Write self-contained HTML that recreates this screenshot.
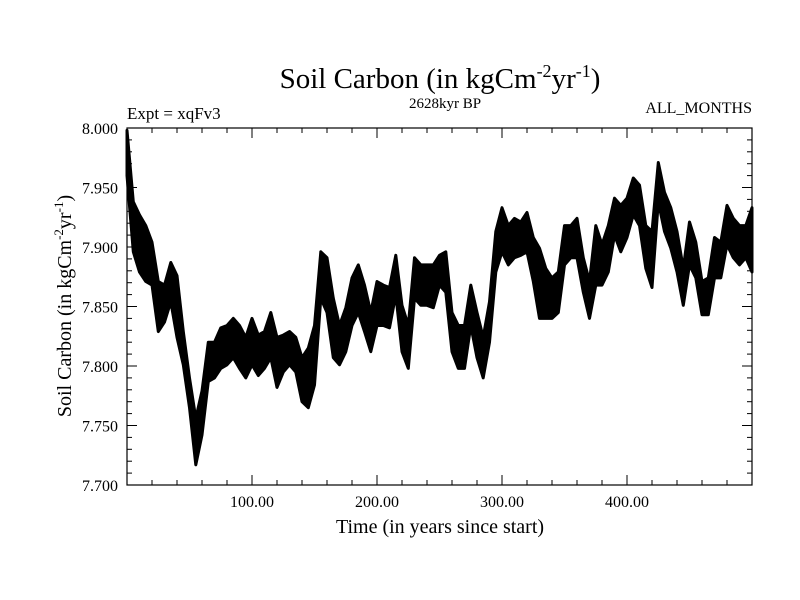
<!DOCTYPE html>
<html><head><meta charset="utf-8"><style>
body{margin:0;background:#fff}
svg{display:block}
text{font-family:"Liberation Serif",serif;fill:#000}
</style></head><body>
<svg width="800" height="600" viewBox="0 0 800 600">
<text x="440" y="88" text-anchor="middle" font-size="29">Soil Carbon (in kgCm<tspan dy="-11" font-size="18">-2</tspan><tspan dy="11">yr</tspan><tspan dy="-11" font-size="18">-1</tspan><tspan dy="11">)</tspan></text>
<text x="127" y="119" font-size="17">Expt = xqFv3</text>
<text x="445" y="108" text-anchor="middle" font-size="15">2628kyr BP</text>
<text x="752" y="113" text-anchor="end" font-size="16">ALL_MONTHS</text>
<text transform="translate(71,306) rotate(-90)" text-anchor="middle" font-size="20">Soil Carbon (in kgCm<tspan dy="-8" font-size="13">-2</tspan><tspan dy="8">yr</tspan><tspan dy="-8" font-size="13">-1</tspan><tspan dy="8">)</tspan></text>
<text x="440" y="533" text-anchor="middle" font-size="20">Time (in years since start)</text>
<g id="ticks"></g>
<g id="series"></g>
<rect x="127" y="128" width="625" height="357" fill="none" stroke="#000" stroke-width="1.2"/>
</svg>
<script>
const years=[0,5,10,15,20,25,30,35,40,45,50,55,60,65,70,75,80,85,90,95,100,105,110,115,120,125,130,135,140,145,150,155,160,165,170,175,180,185,190,195,200,205,210,215,220,225,230,235,240,245,250,255,260,265,270,275,280,285,290,295,300,305,310,315,320,325,330,335,340,345,350,355,360,365,370,375,380,385,390,395,400,405,410,415,420,425,430,435,440,445,450,455,460,465,470,475,480,485,490,495,500];
const hiVals=[7.998,7.938,7.927,7.918,7.904,7.871,7.868,7.887,7.876,7.829,7.790,7.756,7.779,7.820,7.820,7.832,7.834,7.840,7.834,7.824,7.840,7.826,7.829,7.845,7.824,7.826,7.829,7.824,7.807,7.815,7.834,7.896,7.891,7.857,7.834,7.849,7.874,7.885,7.868,7.845,7.871,7.868,7.866,7.893,7.851,7.834,7.891,7.885,7.885,7.885,7.893,7.896,7.845,7.834,7.834,7.868,7.845,7.824,7.854,7.913,7.933,7.918,7.924,7.921,7.929,7.908,7.899,7.882,7.874,7.879,7.918,7.918,7.924,7.891,7.871,7.918,7.902,7.918,7.941,7.935,7.941,7.958,7.952,7.918,7.913,7.971,7.946,7.933,7.913,7.882,7.921,7.904,7.871,7.874,7.908,7.904,7.935,7.924,7.918,7.918,7.933];
const loVals=[7.960,7.896,7.879,7.871,7.868,7.829,7.837,7.854,7.824,7.801,7.765,7.717,7.742,7.787,7.790,7.798,7.801,7.807,7.798,7.790,7.801,7.792,7.798,7.807,7.782,7.795,7.801,7.795,7.770,7.765,7.784,7.857,7.845,7.807,7.801,7.812,7.834,7.845,7.829,7.812,7.834,7.834,7.832,7.860,7.812,7.798,7.857,7.851,7.851,7.849,7.868,7.862,7.812,7.798,7.798,7.834,7.807,7.790,7.820,7.879,7.896,7.885,7.891,7.893,7.896,7.871,7.840,7.840,7.840,7.845,7.885,7.891,7.891,7.862,7.840,7.868,7.868,7.879,7.910,7.896,7.908,7.927,7.918,7.882,7.866,7.938,7.913,7.899,7.879,7.851,7.885,7.874,7.843,7.843,7.874,7.874,7.902,7.891,7.885,7.891,7.879];
const xTickVals=[100,200,300,400];
const xTickLabels=["100.00","200.00","300.00","400.00"];
const yTickVals=[7.70,7.75,7.80,7.85,7.90,7.95,8.00];
const yTickLabels=["7.700","7.750","7.800","7.850","7.900","7.950","8.000"];
const L=127,R=752,T=128,B=485,X0=0,X1=500,Y0=7.7,Y1=8.0;
const xs=v=>L+(v-X0)/(X1-X0)*(R-L);
const ys=v=>B-(v-Y0)/(Y1-Y0)*(B-T);
const NS="http://www.w3.org/2000/svg";
const tg=document.getElementById('ticks');
function line(x1,y1,x2,y2,name){const l=document.createElementNS(NS,'line');l.setAttribute('x1',x1);l.setAttribute('y1',y1);l.setAttribute('x2',x2);l.setAttribute('y2',y2);l.setAttribute('stroke','#000');l.setAttribute('stroke-width','1');


tg.appendChild(l);}
function txt(x,y,s,anchor,name){const t=document.createElementNS(NS,'text');t.setAttribute('x',x);t.setAttribute('y',y);t.setAttribute('text-anchor',anchor);t.setAttribute('font-size','16');t.textContent=s;


tg.appendChild(t);}
for(let v=X0+20;v<X1;v+=20){const x=xs(v);const major=v%100===0;const len=major?10:5;
line(x,B,x,B-len,'x-tick');line(x,T,x,T+len,'x-tick-top');}
xTickVals.forEach((v,i)=>txt(xs(v),507,xTickLabels[i],'middle','x-tick-label'));
for(let k=0;k<=30;k++){const v=Y0+k*0.01;const y=ys(v);const major=k%5===0;const len=major?10:5;
line(L,y,L+len,y,'y-tick');line(R,y,R-len,y,'y-tick-right');}
yTickVals.forEach((v,i)=>txt(118,ys(v)+6,yTickLabels[i],'end','y-tick-label'));
const sg=document.getElementById('series');
let pts=[];
years.forEach((t,i)=>pts.push(xs(t).toFixed(1)+','+ys(hiVals[i]).toFixed(1)));
for(let i=years.length-1;i>=0;i--)pts.push(xs(years[i]).toFixed(1)+','+ys(loVals[i]).toFixed(1));
const p=document.createElementNS(NS,'polygon');
p.setAttribute('points',pts.join(' '));
p.setAttribute('fill','#000');p.setAttribute('stroke','#000');p.setAttribute('stroke-width','3');p.setAttribute('stroke-linejoin','round');


sg.appendChild(p);
</script>
</body></html>
